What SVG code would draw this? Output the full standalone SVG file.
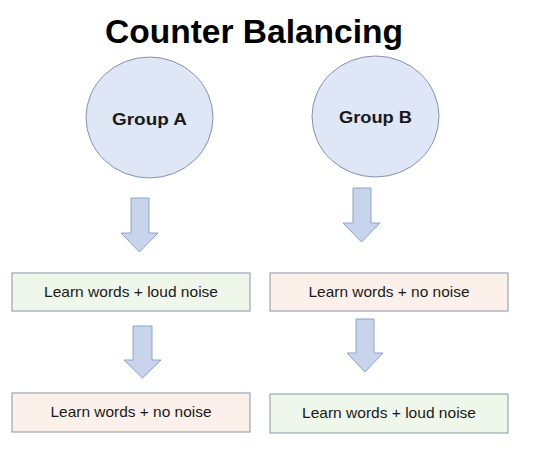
<svg xmlns="http://www.w3.org/2000/svg" width="549" height="461" viewBox="0 0 549 461">
<style>
.title{font-family:"Liberation Sans",Arial,sans-serif;font-weight:bold;font-size:34px;fill:#000}
.grp{fill:#dfe6f5;stroke:#8791ad;stroke-width:1}
.glabel{font-family:"Liberation Sans",Arial,sans-serif;font-weight:bold;font-size:17px;fill:#1a1a1a;text-anchor:middle}
.arrow{fill:#c7d4ec;stroke:#8fa3c9;stroke-width:1}
.green{fill:#eff6ea;stroke:#9ba5b3;stroke-width:1.2}
.peach{fill:#fcf1ea;stroke:#9ba5b3;stroke-width:1.2}
.blabel{font-family:"Liberation Sans",Arial,sans-serif;font-size:14.5px;fill:#1a1a1a;text-anchor:middle}
</style>
<rect width="549" height="461" fill="#fff"/>
<text class="title" x="105" y="43" textLength="298" lengthAdjust="spacingAndGlyphs">Counter Balancing</text>
<g id="groupA">
<ellipse class="grp" cx="149.5" cy="117.5" rx="63.5" ry="60.5"/>
<text class="glabel" x="149.5" y="125" textLength="75" lengthAdjust="spacingAndGlyphs">Group A</text>
</g>
<g id="groupB">
<ellipse class="grp" cx="375.5" cy="116.5" rx="63.5" ry="60.5"/>
<text class="glabel" x="375.5" y="123" textLength="73" lengthAdjust="spacingAndGlyphs">Group B</text>
</g>
<g id="connectors">
<polygon class="arrow" points="131,198 149,198 149,233 158,233 139.5,252 121,233 131,233"/>
<polygon class="arrow" points="353,188 371,188 371,223 380,223 361.5,242 343,223 353,223"/>
<polygon class="arrow" points="133,326 152,326 152,360 161,360 142.5,378 124,360 133,360"/>
<polygon class="arrow" points="356,319 374,319 374,353 383,353 365,372 347,353 356,353"/>
</g>
<g id="a1">
<rect class="green" x="12" y="273" width="238" height="38"/>
<text class="blabel" x="131" y="297" textLength="174" lengthAdjust="spacingAndGlyphs">Learn words + loud noise</text>
</g>
<g id="b1">
<rect class="peach" x="270" y="273" width="238" height="38"/>
<text class="blabel" x="389" y="297" textLength="161" lengthAdjust="spacingAndGlyphs">Learn words + no noise</text>
</g>
<g id="a2">
<rect class="peach" x="12" y="393" width="238" height="39"/>
<text class="blabel" x="131" y="417" textLength="161" lengthAdjust="spacingAndGlyphs">Learn words + no noise</text>
</g>
<g id="b2">
<rect class="green" x="270" y="394" width="238" height="39"/>
<text class="blabel" x="389" y="418" textLength="174" lengthAdjust="spacingAndGlyphs">Learn words + loud noise</text>
</g>
</svg>
